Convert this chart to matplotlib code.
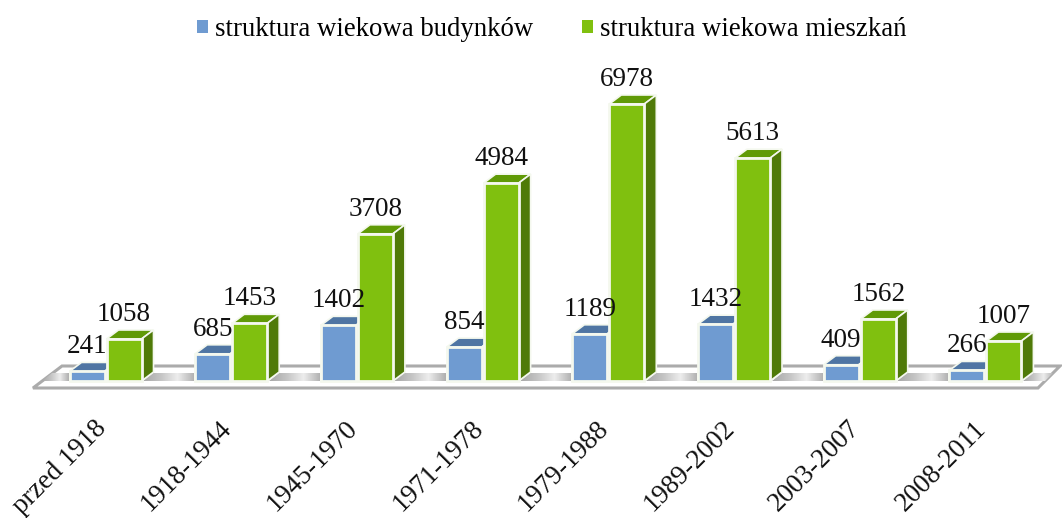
import numpy as np
import matplotlib
matplotlib.use("Agg")
import matplotlib.pyplot as plt
from matplotlib.patches import Polygon
from matplotlib.colors import LinearSegmentedColormap

categories = ["przed 1918", "1918-1944", "1945-1970", "1971-1978",
              "1979-1988", "1989-2002", "2003-2007", "2008-2011"]
budynki = [241, 685, 1402, 854, 1189, 1432, 409, 266]
mieszkania = [1058, 1453, 3708, 4984, 6978, 5613, 1562, 1007]
series_names = ["struktura wiekowa budynków", "struktura wiekowa mieszkań"]

W, H = 1062, 518
PX_PER_CAT = 125.7
PX_PER_VAL = 277 / 6978
X0_PX, Y0_PX, BOTTOM_PX = 105.5, 381, 398
def px_x(p): return p / PX_PER_CAT
def px_y(p): return p / PX_PER_VAL
def fx(p): return (p - X0_PX) / PX_PER_CAT
def fy(p): return (Y0_PX - p) / PX_PER_VAL

plt.rcParams["font.family"] = ["Liberation Serif", "DejaVu Serif"]
fig = plt.figure(figsize=(W / 100, H / 100), dpi=100)
ax = fig.add_axes([0, (H - BOTTOM_PX) / H, 1, BOTTOM_PX / H])
for s in ax.spines.values():
    s.set_visible(False)

x = np.arange(len(categories))
bw = px_x(35)
gap = px_x(1)
dx, dy = px_x(12), px_y(9)

# floor
ax.add_patch(Polygon([(fx(33), fy(388)), (fx(1038), fy(388)), (fx(1060), fy(366)), (fx(62), fy(366))],
                     closed=True, fc="white", ec="#ABABAB", lw=2.2, zorder=1))
cmap = LinearSegmentedColormap.from_list("shade", ["#A8A8A8", "#C4C4C4", "#EDEDED", "#B0B0B0"])
grad = np.linspace(0, 1, 64)[None, :]
for i in [-1] + list(x):
    c = X0_PX + i * PX_PER_CAT
    l = c + 37.5 if i >= 0 else 42
    r = c + PX_PER_CAT - 37 if i < len(x) - 1 else 1045
    r_top = r if i < len(x) - 1 else 1053
    l_top = l + 10
    im = ax.imshow(grad, cmap=cmap, aspect="auto", zorder=1.5,
                   extent=(fx(l), fx(r_top), fy(381), fy(373)))
    clip = Polygon([(fx(l), fy(381)), (fx(r), fy(381)), (fx(r_top), fy(373)), (fx(l_top), fy(373))],
                   closed=True, transform=ax.transData)
    im.set_clip_path(clip)
ax.set_xlim(-X0_PX / PX_PER_CAT, (W - X0_PX) / PX_PER_CAT)
ax.set_ylim((Y0_PX - BOTTOM_PX) / PX_PER_VAL, Y0_PX / PX_PER_VAL)

EDGE = "#F4F8EE"
def bars(xs, vals, front, top, side, label, z):
    ax.bar(xs, vals, bw, color=front, edgecolor=EDGE, lw=2, label=label, zorder=z + 0.1)
    for xc, v in zip(xs, vals):
        l, r = xc - bw / 2, xc + bw / 2
        ax.add_patch(Polygon([(l, v), (r, v), (r + dx, v + dy), (l + dx, v + dy)], closed=True,
                             fc=top, ec=EDGE, lw=1.2, zorder=z))
        ax.add_patch(Polygon([(r, 0), (r, v), (r + dx, v + dy), (r + dx, dy)], closed=True,
                             fc=side, ec=EDGE, lw=1.2, zorder=z))

xb = x - bw / 2 - gap
xm = x + bw / 2 + gap
bars(xb, budynki, "#6F9BD1", "#4F75A3", "#466A96", series_names[0], 2)
bars(xm, mieszkania, "#80C00F", "#609A06", "#4F7A08", series_names[1], 3)

for xs, vals in ((xb, budynki), (xm, mieszkania)):
    for xc, v in zip(xs, vals):
        ax.annotate(str(v), (xc, v), xytext=(0, 13), textcoords="offset points",
                    ha="center", va="baseline", fontsize=19.5, color="#111111", zorder=6)

ax.set_yticks([])
ax.set_xticks(x + px_x(-12))
ax.set_xticklabels(categories, rotation=45, ha="right", va="top",
                   rotation_mode="anchor", fontsize=19.5, color="#111111")
ax.tick_params(axis="x", length=0, pad=13)

leg = ax.legend(loc="upper left", bbox_to_anchor=(197 / W, 1 - 17 / BOTTOM_PX), ncol=2, frameon=False,
                fontsize=19.3, handlelength=0.41, handleheight=0.41, handletextpad=0.26,
                columnspacing=1.83, borderpad=0, borderaxespad=0)
for h in leg.legend_handles:
    h.set_edgecolor(h.get_facecolor())
    h.set_linewidth(0)
fig.savefig("out.png", dpi=100)
